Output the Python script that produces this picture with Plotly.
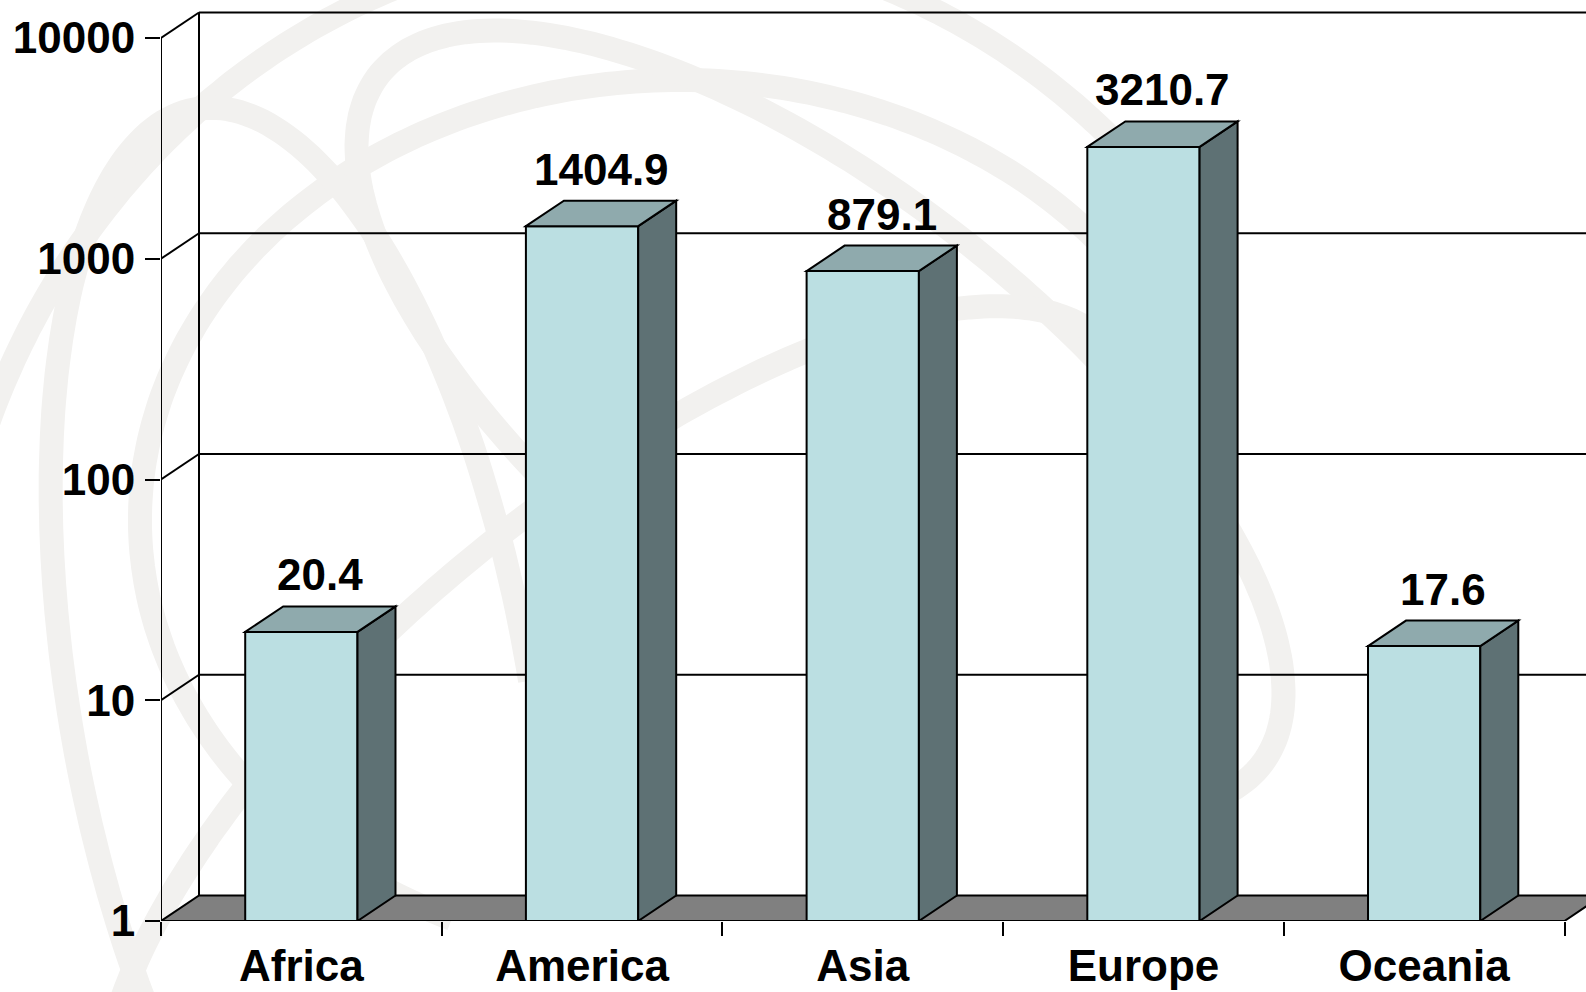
import numpy as np
import plotly.graph_objects as go

# ---- data -------------------------------------------------------------
categories = ["Africa", "America", "Asia", "Europe", "Oceania"]
values = [20.4, 1404.9, 879.1, 3210.7, 17.6]
value_labels = ["20.4", "1404.9", "879.1", "3210.7", "17.6"]
tick_values = [1, 10, 100, 1000, 10000]
tick_labels = ["1", "10", "100", "1000", "10000"]

# ---- geometry / style -------------------------------------------------
W, H = 1586, 992
ML, MR, MT, MB = 161, 0, 0, 71
PX_PER_CAT = 280.7          # horizontal pixels per category slot
PX_PER_DEC = 220.75         # vertical pixels per decade
DEPTH_PX = (38.0, 25.5)     # oblique depth offset (right, up)
BAR_W = 0.40

FRONT = "#BBDFE2"
TOP = "#8FAAAD"
SIDE = "#5E7174"
FLOOR = "#808080"
INK = "#000000"
WATERMARK = "#F2F1EF"
FONT = dict(family="Liberation Sans, Arial, sans-serif", size=44, color=INK, weight=700)

plot_w = W - ML - MR
plot_h = H - MT - MB
x_max = plot_w / PX_PER_CAT
y_max = plot_h / PX_PER_DEC
DX = DEPTH_PX[0] / PX_PER_CAT
DY = DEPTH_PX[1] / PX_PER_DEC

n = len(categories)
centers = [i + 0.5 for i in range(n)]
log_vals = [float(np.log10(v)) for v in values]
y_ticks = [float(np.log10(t)) for t in tick_values]
y_top = y_ticks[-1]

shapes = []


# ---- faint globe watermark (paper coordinates) ------------------------
def to_paper(px, py):
    return (px - ML) / plot_w, 1 - (py - MT) / plot_h


def ellipse_path(cx, cy, rx, ry, rot_deg, a0=0, a1=360, steps=220):
    t = np.radians(np.linspace(a0, a1, steps))
    r = np.radians(rot_deg)
    xs = cx + rx * np.cos(t) * np.cos(r) - ry * np.sin(t) * np.sin(r)
    ys = cy + rx * np.cos(t) * np.sin(r) + ry * np.sin(t) * np.cos(r)
    pts = [to_paper(x, y) for x, y in zip(xs, ys)]
    return "M " + " L ".join(f"{px:.4f},{py:.4f}" for px, py in pts)


arcs = [
    (640, 700, 700, 760, 0, 180, 322),
    (680, 520, 540, 440, 0, 115, 330),
    (820, 420, 560, 230, 38, 100, 380),
    (620, 760, 640, 250, -40, 150, 375),
    (300, 700, 230, 600, -10, 60, 362),
]
for cx, cy, rx, ry, rot, a0, a1 in arcs:
    shapes.append(dict(type="path", xref="paper", yref="paper",
                       path=ellipse_path(cx, cy, rx, ry, rot, a0, a1),
                       line=dict(color=WATERMARK, width=24), layer="below"))

# ---- walls, gridlines and floor ---------------------------------------
line = dict(color=INK, width=2)
for k in y_ticks[1:]:
    # back-wall gridline and its oblique stub on the side wall
    shapes.append(dict(type="line", x0=DX, y0=k + DY, x1=x_max + 1, y1=k + DY,
                       line=line, layer="below"))
    shapes.append(dict(type="line", x0=0, y0=k, x1=DX, y1=k + DY,
                       line=line, layer="below"))
# back-wall left edge and front value axis
shapes.append(dict(type="line", x0=DX, y0=DY, x1=DX, y1=y_top + DY, line=line, layer="below"))
shapes.append(dict(type="line", x0=0, y0=0, x1=0, y1=y_top, line=line, layer="below"))
# floor
shapes.append(dict(type="path",
                   path=f"M 0,0 L {n},0 L {n + DX},{DY} L {DX},{DY} Z",
                   fillcolor=FLOOR, line=line, layer="below"))

# ---- 3-D bar top and side faces ---------------------------------------
for c, v in zip(centers, log_vals):
    x0, x1 = c - BAR_W / 2, c + BAR_W / 2
    shapes.append(dict(type="path",
                       path=f"M {x1},0 L {x1 + DX},{DY} L {x1 + DX},{v + DY} L {x1},{v} Z",
                       fillcolor=SIDE, line=line, layer="above"))
    shapes.append(dict(type="path",
                       path=f"M {x0},{v} L {x0 + DX},{v + DY} L {x1 + DX},{v + DY} L {x1},{v} Z",
                       fillcolor=TOP, line=line, layer="above"))

# ---- value labels -----------------------------------------------------
annotations = []
for c, v, lab in zip(centers, log_vals, value_labels):
    annotations.append(dict(x=c + DX / 2, y=v + DY, text=lab, showarrow=False,
                            xanchor="center", yanchor="bottom", yshift=5, font=FONT))

fig = go.Figure(go.Bar(
    x=centers, y=log_vals, width=BAR_W, base=0,
    marker=dict(color=FRONT, line=dict(color=INK, width=2)),
    customdata=values, hovertemplate="%{customdata}<extra></extra>",
))

fig.update_layout(
    width=W, height=H,
    margin=dict(l=ML, r=MR, t=MT, b=MB, pad=0, autoexpand=False),
    paper_bgcolor="white", plot_bgcolor="rgba(0,0,0,0)",
    showlegend=False,
    shapes=shapes, annotations=annotations,
    xaxis=dict(range=[0, x_max], showgrid=False, zeroline=False, showline=False,
               automargin=False, fixedrange=True,
               tickvals=centers, ticktext=categories, ticks="",
               tickfont=FONT, ticklabelstandoff=15,
               minor=dict(tick0=0, dtick=1, ticks="outside", ticklen=14,
                          tickwidth=2, tickcolor=INK, showgrid=False)),
    yaxis=dict(range=[0, y_max], showgrid=False, zeroline=False, showline=False,
               automargin=False, fixedrange=True,
               tickvals=y_ticks, ticktext=tick_labels,
               ticks="outside", ticklen=15, tickwidth=2, tickcolor=INK,
               tickfont=FONT, ticklabelstandoff=1),
)

fig.write_html("out.html")
